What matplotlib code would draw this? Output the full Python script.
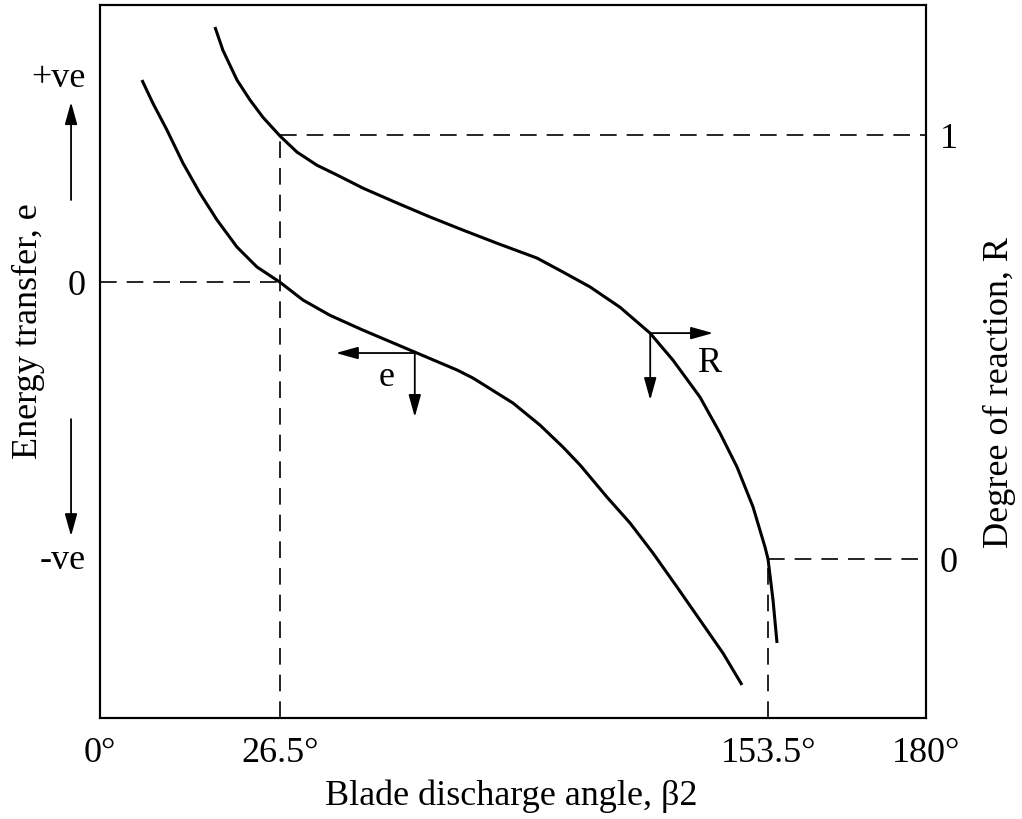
import matplotlib.pyplot as plt

plt.rcParams['font.family'] = ['Liberation Serif', 'DejaVu Serif']

# blade angle axis is schematic in the source, so tick positions differ from labels
angle_ticks = [0, 39.2, 145.6, 180]
angle_labels = ['0°', '26.5°', '153.5°', '180°']

# degree of reaction curve (x position, R)
r_x = [25.06, 26.80, 29.86, 32.69, 35.52, 39.23, 42.93, 47.29, 51.65, 57.31,
       64.72, 71.91, 79.10, 86.51, 95.23, 100.90, 106.78, 113.32, 119.86, 124.87,
       130.75, 135.11, 138.82, 142.30, 144.92, 145.57, 146.66, 147.53]
r_y = [1.255, 1.200, 1.130, 1.083, 1.042, 0.998, 0.960, 0.929, 0.906, 0.875,
       0.840, 0.807, 0.776, 0.745, 0.710, 0.677, 0.642, 0.594, 0.533, 0.469,
       0.382, 0.297, 0.217, 0.123, 0.028, 0.0, -0.097, -0.198]

# energy transfer curve, drawn on the same vertical scale
e_x = [9.15, 11.55, 14.60, 18.09, 21.79, 25.50, 29.86, 34.21, 39.23, 44.24,
       50.12, 57.31, 69.08, 77.80, 81.28, 90.00, 95.88, 100.90, 104.60, 110.49,
       115.50, 120.51, 125.74, 130.75, 135.76, 139.90]
e_y = [1.130, 1.075, 1.012, 0.934, 0.863, 0.800, 0.736, 0.689, 0.653, 0.611,
       0.575, 0.540, 0.486, 0.446, 0.427, 0.368, 0.316, 0.264, 0.222, 0.146,
       0.085, 0.014, -0.066, -0.144, -0.222, -0.297]

# left axis: energy transfer levels (in R units of the plot)
e_levels = [0.005, 0.653, 1.142]
e_labels = ['-ve', '0', '+ve']

# right axis: degree of reaction
r_levels = [0, 1]
r_labels = ['0', '1']

fig = plt.figure(figsize=(10.22, 8.19), dpi=100)
ax = fig.add_axes([0.0978, 0.1233, 0.8083, 0.8706])
ax.set_xlim(0, 180)
ax.set_ylim(-0.375, 1.307)

curve = dict(color='black', lw=2.2, solid_joinstyle='round', solid_capstyle='butt')
ax.plot(r_x, r_y, **curve)
ax.plot(e_x, e_y, **curve)

dash = dict(color='black', lw=1.2, dashes=(10, 6))
# R = 1 at 26.5 deg, e = 0 at 26.5 deg, R = 0 at 153.5 deg
ax.plot([angle_ticks[1], 180], [1, 1], **dash)
ax.plot([angle_ticks[1], angle_ticks[1]], [-0.375, 1], **dash)
ax.plot([0, angle_ticks[1]], [e_levels[1], e_levels[1]], **dash)
ax.plot([angle_ticks[2], angle_ticks[2]], [-0.375, 0], **dash)
ax.plot([angle_ticks[2], 180], [0, 0], **dash)

arrow = dict(arrowstyle='-|>,head_width=0.25,head_length=0.9', color='black',
             lw=1.3, mutation_scale=15, shrinkA=0, shrinkB=0)

# direction arrows on the e curve
ax.annotate('', xy=(51.4, 0.486), xytext=(68.6, 0.486), arrowprops=arrow)
ax.annotate('', xy=(68.6, 0.335), xytext=(68.6, 0.486), arrowprops=arrow)
ax.text(62.5, 0.428, 'e', fontsize=26, ha='center', va='center')

# direction arrows on the R curve
ax.annotate('', xy=(133.6, 0.533), xytext=(119.9, 0.533), arrowprops=arrow)
ax.annotate('', xy=(119.9, 0.375), xytext=(119.9, 0.533), arrowprops=arrow)
ax.text(132.9, 0.462, 'R', fontsize=26, ha='center', va='center')

# +ve / -ve arrows beside the left axis
ax.annotate('', xy=(-6.3, 1.078), xytext=(-6.3, 0.847), arrowprops=arrow,
            annotation_clip=False)
ax.annotate('', xy=(-6.3, 0.054), xytext=(-6.3, 0.330), arrowprops=arrow,
            annotation_clip=False)

ax.set_xticks(angle_ticks)
ax.set_xticklabels(angle_labels, fontsize=26)
ax.set_yticks(e_levels)
ax.set_yticklabels(e_labels, fontsize=26)
ax.tick_params(axis='x', length=0, pad=14)
ax.tick_params(axis='y', length=0, pad=10)

ax2 = ax.twinx()
ax2.set_ylim(ax.get_ylim())
ax2.set_yticks(r_levels)
ax2.set_yticklabels(r_labels, fontsize=26)
ax2.tick_params(axis='y', length=0, pad=10)

for a in (ax, ax2):
    for s in a.spines.values():
        s.set_linewidth(1.5)

fig.text(0.5, 0.028, 'Blade discharge angle, β2', fontsize=26, ha='center', va='center')
fig.text(0.028, 0.596, 'Energy transfer, e', fontsize=26, rotation=90, ha='center', va='center')
fig.text(0.978, 0.521, 'Degree of reaction, R', fontsize=26, rotation=90, ha='center', va='center')

fig.savefig('out.png', dpi=100)
